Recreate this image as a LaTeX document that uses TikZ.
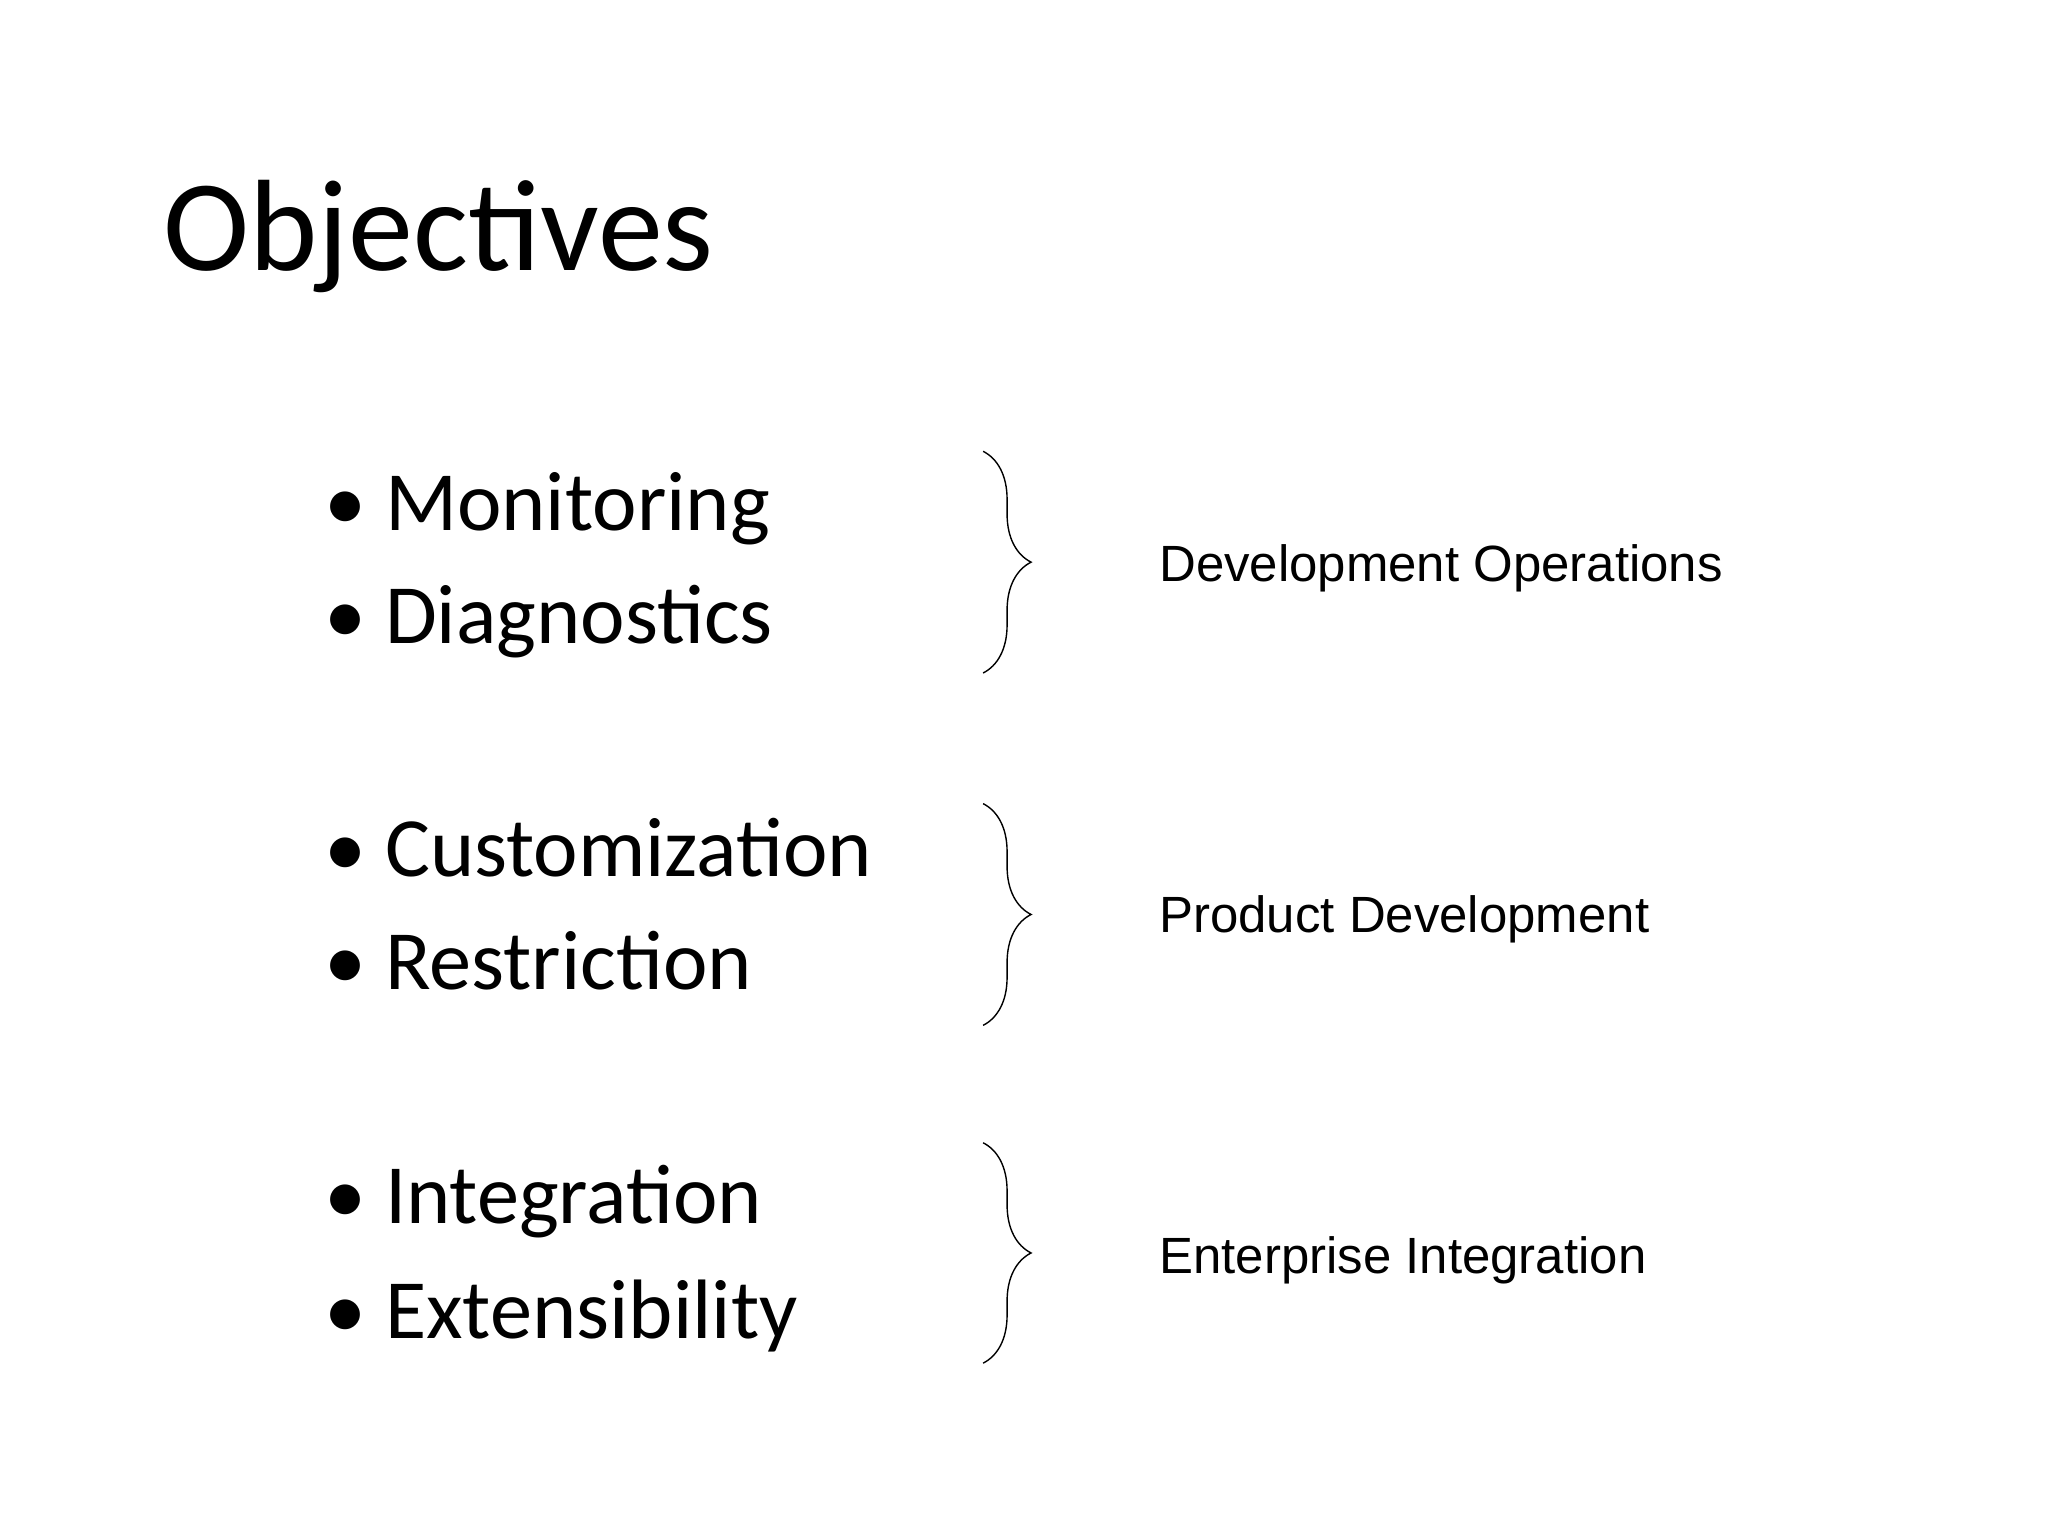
\documentclass[tikz,border=0pt]{standalone}
\usepackage{fontspec}
\setmainfont{Carlito}
\newfontfamily\arialfont{Liberation Sans}
\usetikzlibrary{decorations.pathreplacing}

\begin{document}
\begin{tikzpicture}[x=0.0132cm,y=-0.0132cm]
	\tikzstyle{every node}+=[inner sep=0pt]
	\tikzset{
		item/.style={anchor=base west,font=\fontsize{24}{28}\selectfont},
		group/.style={anchor=base west,font=\arialfont\fontsize{14.5}{17}\selectfont},
		curly/.style={decorate,decoration={brace,amplitude=0.48cm},thin}
	}
	\useasboundingbox (0,0) rectangle (1552,1164);
	\node [anchor=base west,font=\fontsize{37}{44}\selectfont] (title) at (123,205) {Objectives};
	% bullet items
	\node [item] (mon) at (245,402) {\textbullet\ Monitoring};
	\node [item] (dia) at (245,488) {\textbullet\ Diagnostics};
	\node [item] (cus) at (245,664) {\textbullet\ Customization};
	\node [item] (res) at (245,750) {\textbullet\ Restriction};
	\node [item] (int) at (245,927) {\textbullet\ Integration};
	\node [item] (ext) at (245,1014) {\textbullet\ Extensibility};
	% braces
	\coordinate (b1t) at (745,342); \coordinate (b1b) at (745,510);
	\coordinate (b2t) at (745,609); \coordinate (b2b) at (745,777);
	\coordinate (b3t) at (745,866); \coordinate (b3b) at (745,1033);
	\draw [curly] (b1t) -- (b1b);
	\draw [curly] (b2t) -- (b2b);
	\draw [curly] (b3t) -- (b3b);
	% group labels
	\node [group] (devops) at (878,441) {Development Operations};
	\node [group] (prod) at (878,707) {Product Development};
	\node [group] (ent) at (878,965) {Enterprise Integration};
\end{tikzpicture}
\end{document}
